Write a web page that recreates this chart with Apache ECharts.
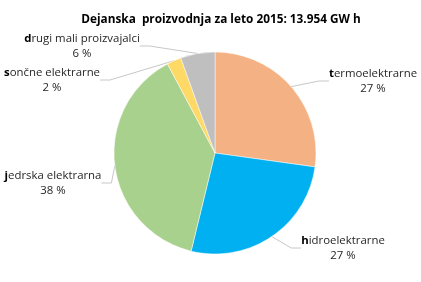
<!DOCTYPE html>
<html><head><meta charset="utf-8">
<script src="https://cdn.jsdelivr.net/npm/echarts@6/dist/echarts.min.js"></script>
<style>html,body{margin:0;padding:0;background:#fff}#c{width:421px;height:282px}</style>
</head><body><div id="c"></div>
<script>
var categories = ['termoelektrarne', 'hidroelektrarne', 'jedrska elektrarna', 'sončne elektrarne', 'drugi mali proizvajalci'];
var shares = [27.2, 26.6, 38.4, 2.3, 5.5];
var colors = ['#F4B183', '#00B0F0', '#A9D18E', '#FFD966', '#BFBFBF'];
var titleText = 'Dejanska  proizvodnja za leto 2015: 13.954 GW h';
var labelPos = [[373, 81], [343, 248], [53, 183], [52, 80], [82, 46]];

var chart = echarts.init(document.getElementById('c'), null, {renderer: 'canvas'});
chart.setOption({
  backgroundColor: '#fff',
  animation: false,
  title: {
    text: titleText, left: 216, textAlign: 'center', top: 9,
    textStyle: {fontFamily: 'Open Sans', fontWeight: 'bold', fontSize: 11.8, color: '#000'}
  },
  series: [{
    type: 'pie',
    center: [215, 153],
    radius: 101,
    startAngle: 90,
    clockwise: true,
    avoidLabelOverlap: false,
    data: categories.map(function (c, i) {
      return {name: c, value: shares[i], itemStyle: {color: colors[i]}};
    }),
    itemStyle: {borderColor: 'rgba(255,255,255,0.6)', borderWidth: 0.8},
    label: {
      show: true, position: 'outside', align: 'center',
      fontFamily: 'Open Sans', fontSize: 11.4, color: '#262626', lineHeight: 15,
      formatter: function (p) {
        return '{b|' + p.name.charAt(0) + '}' + p.name.slice(1) + '\n' + Math.round(p.value) + ' %';
      },
      rich: {b: {fontFamily: 'Open Sans', fontWeight: 'bold', fontSize: 11.4, color: '#000', lineHeight: 15}}
    },
    labelLine: {show: true, length: 10, length2: 10, lineStyle: {color: '#C8C8C8', width: 1}},
    labelLayout: function (params) {
      var p = labelPos[params.dataIndex];
      return {x: p[0], y: p[1], align: 'center', verticalAlign: 'middle'};
    }
  }]
});
</script></body></html>
